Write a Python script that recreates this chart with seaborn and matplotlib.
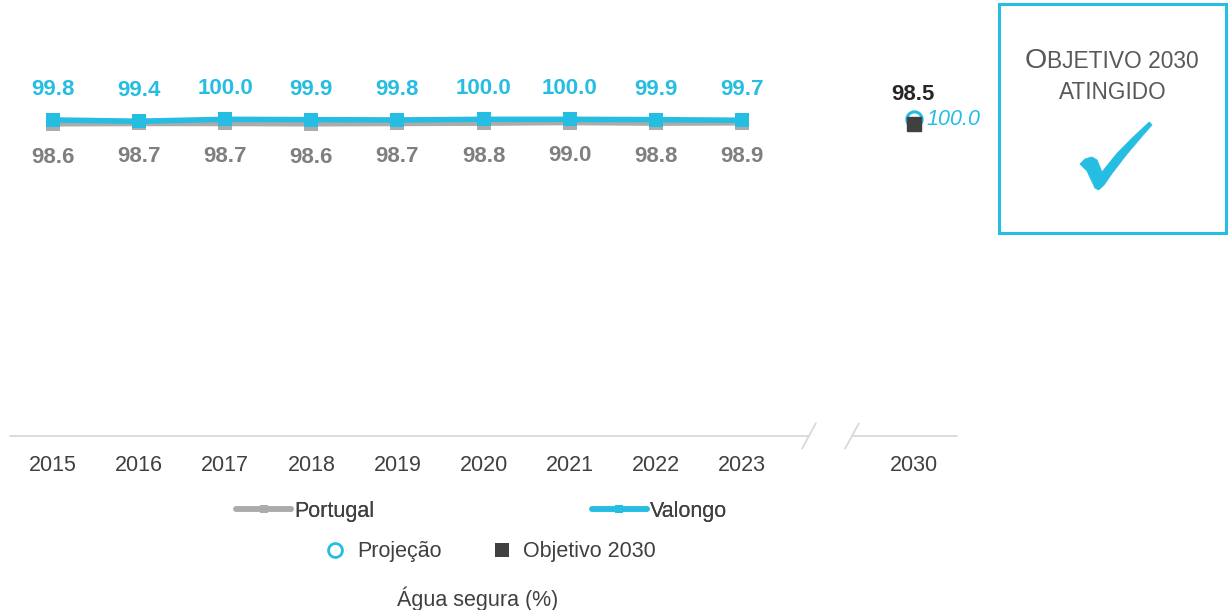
import numpy as np
import pandas as pd
import matplotlib
matplotlib.use("Agg")
import matplotlib.pyplot as plt
from matplotlib.lines import Line2D
from matplotlib.patches import Rectangle, Polygon
import seaborn as sns

# ---- data ----
years = ["2015", "2016", "2017", "2018", "2019", "2020", "2021", "2022", "2023"]
portugal = [98.6, 98.7, 98.7, 98.6, 98.7, 98.8, 99.0, 98.8, 98.9]
valongo = [99.8, 99.4, 100.0, 99.9, 99.8, 100.0, 100.0, 99.9, 99.7]
target_year = "2030"
projecao_2030 = 100.0
objetivo_2030 = 98.5
tick_labels = years + [target_year]

CYAN = "#26BDE2"
GRAY = "#ABABAB"
GRAY_TXT = "#7F7F7F"
DARK = "#404040"

sns.set_style("white")
plt.rcParams["font.family"] = ["Liberation Sans", "DejaVu Sans"]

W, H = 1229, 610
fig = plt.figure(figsize=(W / 100, H / 100), dpi=100)
ax = fig.add_axes([10 / W, 1 - 436 / H, 947 / W, 380 / H])

pos = list(range(len(years)))
target_pos = len(years) + 1

df = pd.DataFrame({
    "pos": pos * 2,
    "valor": portugal + valongo,
    "serie": ["Portugal"] * len(years) + ["Valongo"] * len(years),
})
sns.lineplot(data=df, x="pos", y="valor", hue="serie", style="serie",
             palette={"Portugal": GRAY, "Valongo": CYAN},
             markers={"Portugal": "s", "Valongo": "s"},
             dashes={"Portugal": "", "Valongo": ""},
             linewidth=4, markersize=10, markeredgewidth=0,
             legend=False, ax=ax)

# data labels
for x, v in zip(pos, valongo):
    ax.annotate(f"{v:.1f}", (x, v), xytext=(0, 22), textcoords="offset points",
                ha="center", va="center", fontsize=16, fontweight="bold", color=CYAN)
for x, v in zip(pos, portugal):
    ax.annotate(f"{v:.1f}", (x, v), xytext=(0, -24), textcoords="offset points",
                ha="center", va="center", fontsize=16, fontweight="bold", color=GRAY_TXT)

# 2030 points
ax.plot([target_pos], [projecao_2030], marker="o", ms=11, mfc="white", mec=CYAN, mew=2.2,
        ls="none", zorder=4)
ax.plot([target_pos], [objetivo_2030], marker="s", ms=10, color="#404040", ls="none", zorder=5)
ax.annotate(f"{objetivo_2030:.1f}", (target_pos, objetivo_2030), xytext=(-1, 21),
            textcoords="offset points", ha="center", va="center", fontsize=16,
            fontweight="bold", color="#262626")
ax.annotate(f"{projecao_2030:.1f}", (target_pos, projecao_2030), xytext=(9, 0),
            textcoords="offset points", ha="left", va="center", fontsize=15.5,
            fontstyle="italic", color=CYAN)

ax.set_xlim(-0.5, target_pos + 0.5)
ax.set_ylim(0, 120)
ax.set_yticks([])
ax.set_xticks(pos + [target_pos])
ax.set_xticklabels(tick_labels, fontsize=15.5, color=DARK)
ax.tick_params(axis="x", length=0, pad=13.5)
ax.set_xlabel("")
ax.set_ylabel("")
for s in ax.spines.values():
    s.set_visible(False)

# broken axis line
AX_C = "#D9D9D9"
ax.plot([-0.5, 8.78], [0, 0], color=AX_C, lw=1.3, clip_on=False)
ax.plot([9.28, target_pos + 0.5], [0, 0], color=AX_C, lw=1.3, clip_on=False)
for xb in (8.78, 9.28):
    ax.plot([xb - 0.08, xb + 0.08], [-4, 4], color=AX_C, lw=1.3, clip_on=False)

# legends
h1 = [Line2D([], [], color=GRAY, lw=4, marker="s", ms=6, mew=0),
      Line2D([], [], color=CYAN, lw=4, marker="s", ms=6, mew=0)]
leg1 = fig.legend(h1, ["Portugal", "Valongo"], loc="center", bbox_to_anchor=(0.392, 1 - 511 / H),
                  ncol=2, frameon=False, fontsize=15.5, handlelength=2.55, handletextpad=0.15,
                  columnspacing=10.1, labelcolor=DARK, borderpad=0, borderaxespad=0)
h2 = [Line2D([], [], color=CYAN, marker="o", ms=10, mfc="white", mew=2, ls="none"),
      Line2D([], [], color="#404040", marker="s", ms=10, mew=0, ls="none")]
leg2 = fig.legend(h2, ["Projeção", "Objetivo 2030"], loc="center", bbox_to_anchor=(0.399, 1 - 552 / H),
                  ncol=2, frameon=False, fontsize=15.5, handlelength=1.0, handletextpad=0.5,
                  columnspacing=2.3, labelcolor=DARK, borderpad=0, borderaxespad=0)
fig.add_artist(leg1)
fig.text(478 / W, 1 - 599 / H, "Água segura (%)", ha="center", va="center",
         fontsize=15.5, color=DARK)

# objective box
fig.add_artist(Rectangle((999 / W, 1 - 233 / H), 227 / W, 229 / H,
                         transform=fig.transFigure, fill=False, edgecolor=CYAN, lw=2.2))
fig.text(1047 / W, 1 - 68 / H, "O", ha="right", va="baseline", fontsize=20.5, color="#595959")
fig.text(1047 / W, 1 - 68 / H, "BJETIVO 2030", ha="left", va="baseline", fontsize=16.4, color="#595959")
fig.text(1113 / W, 1 - 99 / H, "ATINGIDO", ha="center", va="baseline", fontsize=16.3, color="#595959")

# check mark (decorative shape, pixel outline)
check_px = [(1080, 164), (1085, 159), (1092, 157), (1097, 160), (1102, 172),
            (1116.7, 153.7), (1133.3, 137), (1149.3, 122), (1152, 125),
            (1141, 137.5), (1127, 154), (1112, 173.5), (1104, 185),
            (1098.5, 190), (1095, 188), (1087, 171)]
fig.add_artist(Polygon([(x / W, 1 - y / H) for x, y in check_px], closed=True,
                       transform=fig.transFigure, facecolor=CYAN, edgecolor=CYAN,
                       lw=0.6, joinstyle="round"))

fig.savefig("out.png", dpi=100)
